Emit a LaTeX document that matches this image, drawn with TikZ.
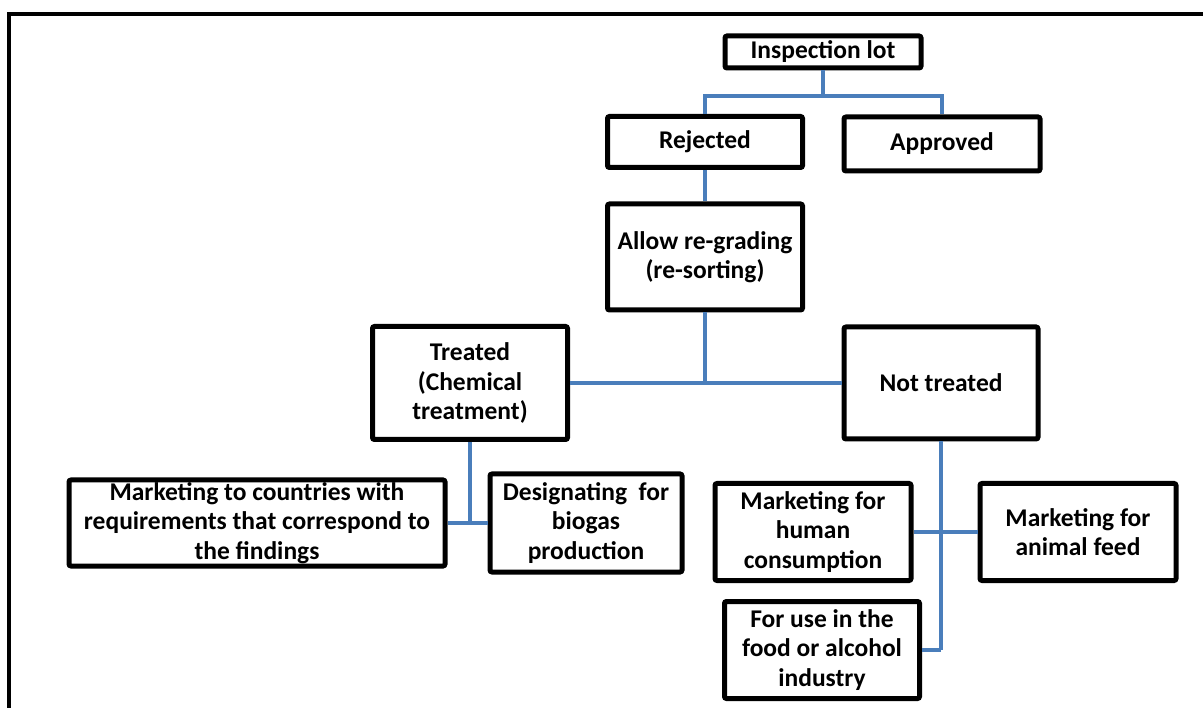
\documentclass[tikz,border=0pt]{standalone}
\usepackage{fontspec}
\setmainfont{Carlito}
\usepackage{tikz}
\definecolor{linkblue}{RGB}{74,126,187}

\begin{document}
\begin{tikzpicture}
	[x=1pt,y=-1pt,
	 box/.style={draw,line width=5pt,rounded corners=2pt,fill=white,align=center,
	   inner sep=0pt,font=\fontsize{25.5}{29.5}\selectfont\bfseries},
	 link/.style={draw=linkblue,line width=4pt}]
	\useasboundingbox (0,0) rectangle (1203,708);
	\draw[line width=4pt] (9,708) -- (9,14) -- (1203,14);
	\node[box,minimum width=196,minimum height=32] (n1) at (823,52) {Inspection lot};
	\node[box,minimum width=195,minimum height=51] (n2) at (705,142) {Rejected};
	\node[box,minimum width=196,minimum height=54] (n3) at (942,144) {Approved};
	\node[box,minimum width=195,minimum height=106] (n4) at (705,257) {Allow re-grading\\(re-sorting)};
	\node[box,minimum width=195,minimum height=113] (n5) at (470,383) {Treated\\(Chemical\\treatment)};
	\node[box,minimum width=194,minimum height=112] (n6) at (941,383) {Not treated};
	\node[box,minimum width=376,minimum height=86] (n7) at (257,523) {Marketing to countries with\\requirements that correspond to\\the findings};
	\node[box,minimum width=192,minimum height=98] (n8) at (586,523) {Designating\ \ for\\biogas\\production};
	\node[box,minimum width=196,minimum height=97] (n9) at (813,532) {Marketing for\\human\\consumption};
	\node[box,minimum width=196,minimum height=97] (n10) at (1078,532) {Marketing for\\animal feed};
	\node[box,minimum width=195,minimum height=97] (n11) at (822,650) {For use in the\\food or alcohol\\industry};
	\coordinate (j1) at (823,96);
	\coordinate (j2) at (705,383);
	\coordinate (j3) at (470,523);
	\coordinate (j4) at (941,650);
	\foreach \from/\to in {n1/j1,n2/n4,n4/j2,n5/n6,n5/j3,n7/n8,n6/j4,j4/n11,n9/n10}
	\draw[link] (\from) -- (\to);
	\foreach \to in {n2,n3}
	\draw[link] (j1) -| (\to);
\end{tikzpicture}
\end{document}
